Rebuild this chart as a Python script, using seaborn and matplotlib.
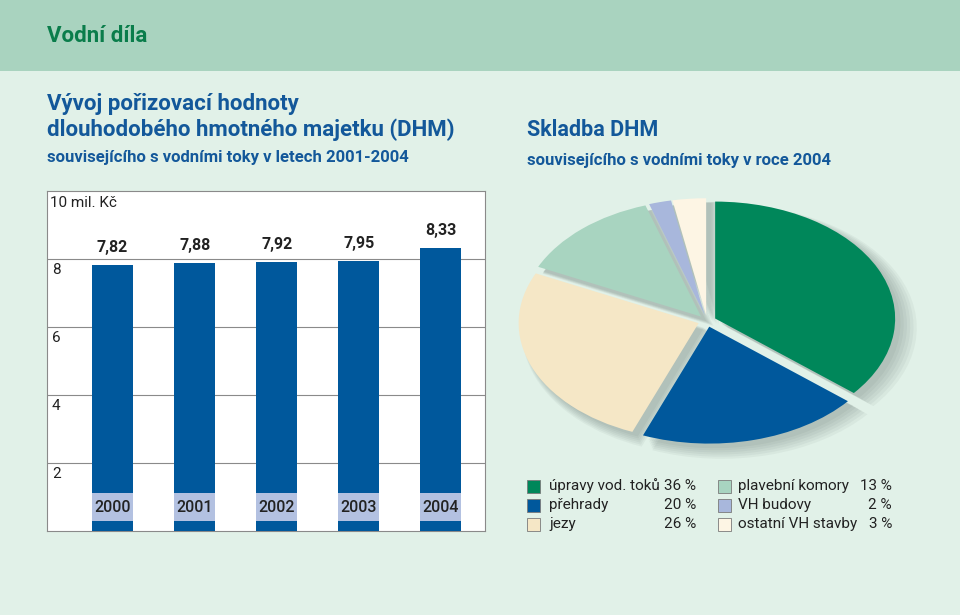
import matplotlib
matplotlib.use("Agg")
import matplotlib.pyplot as plt
from matplotlib.patches import Rectangle
import seaborn as sns
import pandas as pd

# bar chart data (10 mil. Kč)
years = ["2000", "2001", "2002", "2003", "2004"]
values = [7.82, 7.88, 7.92, 7.95, 8.33]

# pie data (share of DHM in 2004, %)
parts = ["úpravy vod. toků", "přehrady", "jezy",
         "plavební komory", "VH budovy", "ostatní VH stavby"]
shares = [36, 20, 26, 13, 2, 3]
part_colors = ["#00875a", "#00589c", "#f5e7c6", "#a8d4c0", "#a8b7dc", "#fdf5e4"]

plt.rcParams['font.family'] = ['Roboto', 'DejaVu Sans']

W, H = 960, 615
fig = plt.figure(figsize=(W / 100, H / 100), dpi=100)
fig.patch.set_facecolor("#e1f1e8")

def fx(x):
    return x / W

def fy(y):
    return 1 - y / H

def ftext(x, y, s, **kw):
    fig.text(fx(x), fy(y), s, **kw)

# header band
fig.patches.append(Rectangle((0, fy(71)), 1, 71 / H, transform=fig.transFigure,
                             facecolor="#a9d3bf", edgecolor="none", zorder=0))
ftext(47, 36, "Vodní díla", color="#0a7d4b", fontsize=16, weight="bold", va="center")

blue = "#13589a"
ftext(47, 104, "Vývoj pořizovací hodnoty", color=blue, fontsize=16, weight="semibold", va="center")
ftext(47, 130, "dlouhodobého hmotného majetku (DHM)", color=blue, fontsize=16, weight="semibold", va="center")
ftext(47, 158, "souvisejícího s vodními toky v letech 2001-2004", color=blue, fontsize=12,
      weight="semibold", va="center")
ftext(527, 130, "Skladba DHM", color=blue, fontsize=15.5, weight="semibold", va="center")
ftext(527, 160, "souvisejícího s vodními toky v roce 2004", color=blue, fontsize=12,
      weight="semibold", va="center")

# ---------------- bar chart ----------------
ax = fig.add_axes([fx(47), fy(531), 438 / W, 340 / H])
ax.set_facecolor("white")
df = pd.DataFrame({"rok": years, "hodnota": values})
sns.barplot(data=df, x="rok", y="hodnota", color="#00589c", saturation=1, width=0.5, ax=ax, zorder=3)
ax.set_xlim(-0.8, 4.54)
ax.set_ylim(0, 10)
ax.set_yticks([2, 4, 6, 8])
ax.grid(axis="y", color="#8a8a8a", linewidth=0.8, zorder=1)
ax.tick_params(length=0, labelleft=False, labelbottom=False)
ax.set_xlabel("")
ax.set_ylabel("")
for s in ax.spines.values():
    s.set_color("#8a8a8a")
    s.set_linewidth(0.8)

labels = [f"{v:.2f}".replace(".", ",") for v in values]
ax.bar_label(ax.containers[0], labels=labels, padding=7, fontsize=11.5, weight="semibold", color="#222222")

# year bands across bars
xpos = list(range(len(years)))
ax.bar(xpos, [0.83] * len(years), bottom=0.29, width=0.5, color="#b3c1e1", zorder=4)
for i, y in enumerate(years):
    ax.text(i, 0.7, y, ha="center", va="center", fontsize=11.5, weight="medium", color="#222222", zorder=5)

for v in [2, 4, 6, 8]:
    ax.text(-0.74, v - 0.33, str(v), ha="left", va="center", fontsize=11, color="#222222")
ax.text(-0.76, 9.65, "10 mil. Kč", ha="left", va="center", fontsize=11, color="#222222")

# ---------------- pie chart ----------------
pax = fig.add_axes([fx(707 - 234), fy(321 + 152), 468 / W, 304 / H])
pax.set_facecolor("none")
explode = [0.05] * len(shares)
# soft shadow layers
for k in range(6):
    pax.pie(shares, explode=explode, startangle=90, counterclock=False,
            center=(0.03 + 0.008 * k, -0.04 - 0.008 * k), radius=1.0 + 0.01 * k,
            colors=["#4f5f5a"] * len(shares),
            wedgeprops={"alpha": 0.06, "linewidth": 0})
pax.pie(shares, explode=explode, startangle=90, counterclock=False,
        colors=part_colors, wedgeprops={"linewidth": 0})
pax.set_xlim(-1.3, 1.3)
pax.set_ylim(-1.3, 1.3)
pax.set_aspect("auto")
pax.axis("off")

# ---------------- legend ----------------
rows = [486, 505, 524]
cols = [(527, 549, 696), (718, 738, 892)]
for i, (name, pct, c) in enumerate(zip(parts, shares, part_colors)):
    sx, tx, px = cols[i // 3]
    y = rows[i % 3]
    fig.patches.append(Rectangle((fx(sx), fy(y + 6.5)), 13 / W, 13 / H, transform=fig.transFigure,
                                 facecolor=c, edgecolor="#7a7a7a", linewidth=0.6))
    ftext(tx, y, name, fontsize=11, color="#222222", va="center")
    ftext(px, y, f"{pct} %", fontsize=11, color="#222222", va="center", ha="right")

fig.savefig("out.png", dpi=100, facecolor=fig.get_facecolor())
